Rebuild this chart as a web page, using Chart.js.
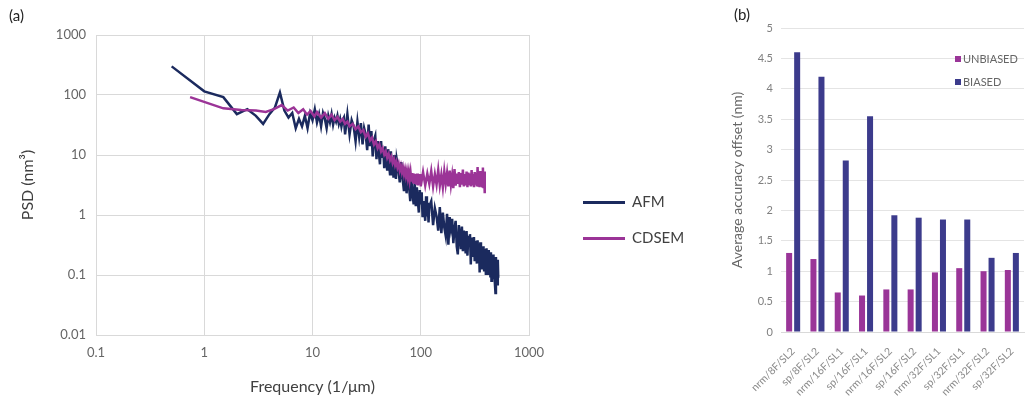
<!DOCTYPE html>
<html>
<head>
<meta charset="utf-8">
<script src="https://cdn.jsdelivr.net/npm/chart.js@4/dist/chart.umd.min.js"></script>
<style>
  html,body{margin:0;padding:0;background:#fff;}
  #wrap{position:relative;width:1029px;height:402px;background:#fff;overflow:hidden;font-family:Lato,"Open Sans",sans-serif;}
  canvas{position:absolute;top:0;}
  .lbl{position:absolute;white-space:nowrap;line-height:1;}
</style>
</head>
<body>
<div id="wrap">
  <canvas id="c1" width="700" height="402" style="left:0"></canvas>
  <canvas id="c2" width="329" height="402" style="left:700px"></canvas>
  <div class="lbl" style="left:9px;top:8px;font-size:15px;color:#222">(a)</div>
  <div class="lbl" style="left:734px;top:7px;font-size:15px;color:#222">(b)</div>
  <div id="leg1"></div>
  <div id="leg2"></div>
</div>
<script>
// ---------- Panel (a): PSD ----------
const psdSeriesNames = ["AFM", "CDSEM"];
const afmFreq = [0.5,1,1.5,2,2.5,3,3.5,4,4.5,5,5.5,6,6.5,7,7.5,8,8.5,9,9.5,10,
  10.5,11,11.5,12,12.5,13,13.5,14,14.5,15,15.5,16,16.5,17,17.5,18,18.5,19,19.5,20,
  21,22,23,24,25,26,27,28,29,30,31,32,33,34,35,36,37,38,39,40,
  41,42,43,44,45,46,47,48,49,50,51,52,53,54,55,56,57,58,59,60,
  62,64,66,68,70,72,74,76,78,80,82,84,86,88,90,92,94,96,98,100,
  102,104,106,108,110,112,114,116,118,120,
  125,130,135,140,145,150,155,160,165,170,175,180,185,190,195,200,
  205,210,215,220,225,230,235,240,245,250,255,260,265,270,275,280,
  285,290,295,300,305,310,315,320,325,330,335,340,345,350,355,360,
  365,370,375,380,385,390,395,400,405,410,415,420,425,430,435,440,
  445,450,455,460,465,470,475,480,485,490,495,500,505,510,515,520];
const afmPsd = [300,115,92,48,58,45,33,48,62,110,55,42,50,28,40,30,45,28,50,38,
  58,35,48,30,50,40,28,45,35,48,32,42,36,45,33,40,30,38,42,22,
  48,22,38,30,17,36,20,34,15,28,22,12,32,14,25,9.5,18,21,8.5,17,
  11,7,17,9,13,6,14,8,5.5,12.5,7,4.8,11.5,6,9,4.2,10,5.5,4,8.5,
  6,3.5,7.6,4,2.5,5.8,2.3,4.6,3,1.7,4.0,2.2,1.5,3.4,1.4,2.9,1.7,1.1,2.6,1.5,
  2.4,0.92,1.7,1.2,0.8,2.05,0.95,1.6,0.75,1.4,
  1.7,0.68,1.3,0.95,0.55,1.35,0.5,1.1,0.62,0.45,1.05,0.32,0.92,0.6,0.86,0.34,
  0.58,0.8,0.3,0.22,0.68,0.45,0.27,0.64,0.25,0.55,0.38,0.23,0.54,0.21,0.45,0.33,
  0.48,0.15,0.42,0.2,0.28,0.43,0.17,0.37,0.25,0.155,0.38,0.2,0.33,0.11,0.35,0.16,
  0.28,0.13,0.22,0.3,0.12,0.27,0.17,0.1,0.28,0.14,0.22,0.105,0.26,0.13,0.2,0.095,
  0.24,0.08,0.19,0.12,0.22,0.085,0.16,0.2,0.08,0.05,0.2,0.1,0.17,0.07,0.18,0.09];
const cdsemFreq = [0.74,1.5,2.2,3.0,3.7,4.4,5.2,5.9,6.7,7.4,8.2,8.9,9.6,10.4,11,12,13,14,15,16,17,18,19,20,21,22,
  23.5,25,26.5,28,29.5,31,32.5,34,35.5,37,38.5,40,41.5,43,44.5,46,47.5,49,50.5,52,
  53.5,55,56.5,58,59.5,61,62.5,64,65.5,67,68.5,70,71.5,73,74.5,76,77.5,79,80.5,82,
  83.5,85,86.5,88,89.5,91,92.5,94,95.5,97,98.5,100,
  105,110,115,120,125,130,135,140,145,150,155,160,165,170,175,180,185,190,195,200,
  205,210,215,220,225,230,235,240,245,250,255,260,265,270,275,280,285,290,295,300,
  305,310,315,320,325,330,335,340,345,350,355,360,365,370,375,380,385,390];
const cdsemPsd = [92,60,56,55,52,58,68,55,62,50,58,47,54,44,52,42,50,40,47,38,43,36,40,33,36,30,
  33,27,30,24,26,20,23,17.5,19.5,15,17,13,15,11.5,13,10.2,11.5,9,10.4,8.2,
  9.4,7.4,8.6,6.8,7.8,6.2,7.2,5.6,6.6,5.2,6.2,4.8,5.8,4.5,5.5,4.2,5.3,3.9,5.1,3.6,
  5,3.5,4.9,3.3,4.8,3.2,4.9,3.1,4.7,3.2,4.8,3.0,
  5.2,3.1,4.9,3.3,5.4,3.0,4.8,3.2,5.6,3.1,4.7,2.9,5.3,3.3,5.0,3.0,5.5,3.2,4.6,2.8,
  5.8,3.1,4.9,3.3,5.2,2.9,5.0,3.2,5.7,3.0,4.8,3.1,5.3,2.9,5.1,3.3,4.9,3.0,5.6,3.1,
  4.8,2.9,5.2,3.2,5.0,3.0,6.3,3.1,5.1,2.9,5.4,3.2,5.0,3.0,6.2,2.8,5.3,2.3];
const psdTicks = [0.01, 0.1, 1, 10, 100, 1000];
const psdTickLabels = ["0.01", "0.1", "1", "10", "100", "1000"];
const freqTicks = [0.1, 1, 10, 100, 1000];
const freqTickLabels = ["0.1", "1", "10", "100", "1000"];
const psdColors = ["#1b2a5e", "#9b3497"];

// ---------- Panel (b): accuracy offset ----------
const configs = ["nrm/8F/SL2","sp/8F/SL2","nrm/16F/SL1","sp/16F/SL1","nrm/16F/SL2","sp/16F/SL2","nrm/32F/SL1","sp/32F/SL1","nrm/32F/SL2","sp/32F/SL2"];
const unbiased = [1.3, 1.2, 0.65, 0.6, 0.7, 0.7, 0.98, 1.05, 1.0, 1.02];
const biased   = [4.6, 4.2, 2.82, 3.55, 1.92, 1.88, 1.85, 1.85, 1.22, 1.3];
const offsetTicks = [0,0.5,1,1.5,2,2.5,3,3.5,4,4.5,5];
const offsetTickLabels = ["0","0.5","1","1.5","2","2.5","3","3.5","4","4.5","5"];
const barNames = ["UNBIASED", "BIASED"];
const barColors = ["#9a3598", "#3c3b8c"];

const FONT = 'Lato, "Open Sans", sans-serif';
const pairs = (xs, ys) => xs.slice(0, Math.min(xs.length, ys.length)).map((x, i) => ({x, y: ys[i]}));

new Chart(document.getElementById('c1'), {
  type: 'line',
  data: {
    datasets: [
      {label: psdSeriesNames[0], data: pairs(afmFreq, afmPsd), borderColor: psdColors[0], backgroundColor: psdColors[0],
       borderWidth: 2.5, pointRadius: 0, tension: 0, order: 1},
      {label: psdSeriesNames[1], data: pairs(cdsemFreq, cdsemPsd), borderColor: psdColors[1], backgroundColor: psdColors[1],
       borderWidth: 2.5, pointRadius: 0, tension: 0, order: 0}
    ]
  },
  options: {
    responsive: false, animation: false,
    layout: {padding: {top: 35, right: 171, left: 0, bottom: 0}},
    plugins: {legend: {display: false}, tooltip: {enabled: false}},
    scales: {
      x: {
        type: 'logarithmic', min: 0.1, max: 1000,
        afterBuildTicks: s => { s.ticks = freqTicks.map(v => ({value: v})); },
        afterFit: s => { s.height = 67; },
        ticks: {callback: (v, i) => freqTickLabels[i], font: {family: FONT, size: 13}, color: '#666', padding: 10, maxRotation: 0},
        grid: {color: '#d9d9d9', drawTicks: false},
        border: {color: '#d9d9d9'},
        title: {display: true, text: 'Frequency (1/μm)', font: {family: FONT, size: 16}, color: '#404040', padding: {top: 0, bottom: 6}}
      },
      y: {
        type: 'logarithmic', min: 0.01, max: 1000,
        afterBuildTicks: s => { s.ticks = psdTicks.map(v => ({value: v})); },
        afterFit: s => { s.width = 96; },
        ticks: {callback: (v, i) => psdTickLabels[i], font: {family: FONT, size: 13}, color: '#666', padding: 10},
        grid: {color: '#d9d9d9', drawTicks: false},
        border: {color: '#d9d9d9'},
        title: {display: true, text: 'PSD (nm³)', font: {family: FONT, size: 16}, color: '#404040', padding: {top: 18, bottom: 0}}
      }
    }
  }
});

new Chart(document.getElementById('c2'), {
  type: 'bar',
  data: {
    labels: configs,
    datasets: [
      {label: barNames[0], data: unbiased, backgroundColor: barColors[0], barPercentage: 0.75, categoryPercentage: 0.66},
      {label: barNames[1], data: biased, backgroundColor: barColors[1], barPercentage: 0.75, categoryPercentage: 0.66}
    ]
  },
  options: {
    responsive: false, animation: false,
    layout: {padding: {top: 28, right: 5, left: 0, bottom: 0}},
    plugins: {legend: {display: false}, tooltip: {enabled: false}},
    scales: {
      x: {
        afterFit: s => { s.height = 70; },
        ticks: {autoSkip: false, minRotation: 45, maxRotation: 45, font: {family: FONT, size: 10.5}, color: '#8a8a8a', padding: 5},
        grid: {display: false},
        border: {color: '#d9d9d9'}
      },
      y: {
        min: 0, max: 5,
        afterBuildTicks: s => { s.ticks = offsetTicks.map(v => ({value: v})); },
        afterFit: s => { s.width = 81; },
        ticks: {callback: (v, i) => offsetTickLabels[i], font: {family: FONT, size: 11}, color: '#808080', padding: 8},
        grid: {color: '#e4e4e4', drawTicks: false},
        border: {display: false},
        title: {display: true, text: 'Average accuracy offset (nm)', font: {family: FONT, size: 14}, color: '#666', padding: {top: 29, bottom: 0}}
      }
    }
  }
});

// HTML legends built from the series names/colors
const leg1 = document.getElementById('leg1');
psdSeriesNames.forEach((n, i) => {
  const y = 202 + i * 36;
  leg1.insertAdjacentHTML('beforeend',
    `<div style="position:absolute;left:583px;top:${y - 1.5}px;width:42px;height:3px;background:${psdColors[i]}"></div>` +
    `<div class="lbl" style="left:632px;top:${y - 8}px;font-size:15px;color:#404040">${n}</div>`);
});
const leg2 = document.getElementById('leg2');
barNames.forEach((n, i) => {
  const y = 59 + i * 23;
  leg2.insertAdjacentHTML('beforeend',
    `<div style="position:absolute;left:955px;top:${y - 3}px;width:6px;height:6px;background:${barColors[i]}"></div>` +
    `<div class="lbl" style="left:963px;top:${y - 6}px;font-size:11px;color:#666">${n}</div>`);
});
</script>
</body>
</html>
